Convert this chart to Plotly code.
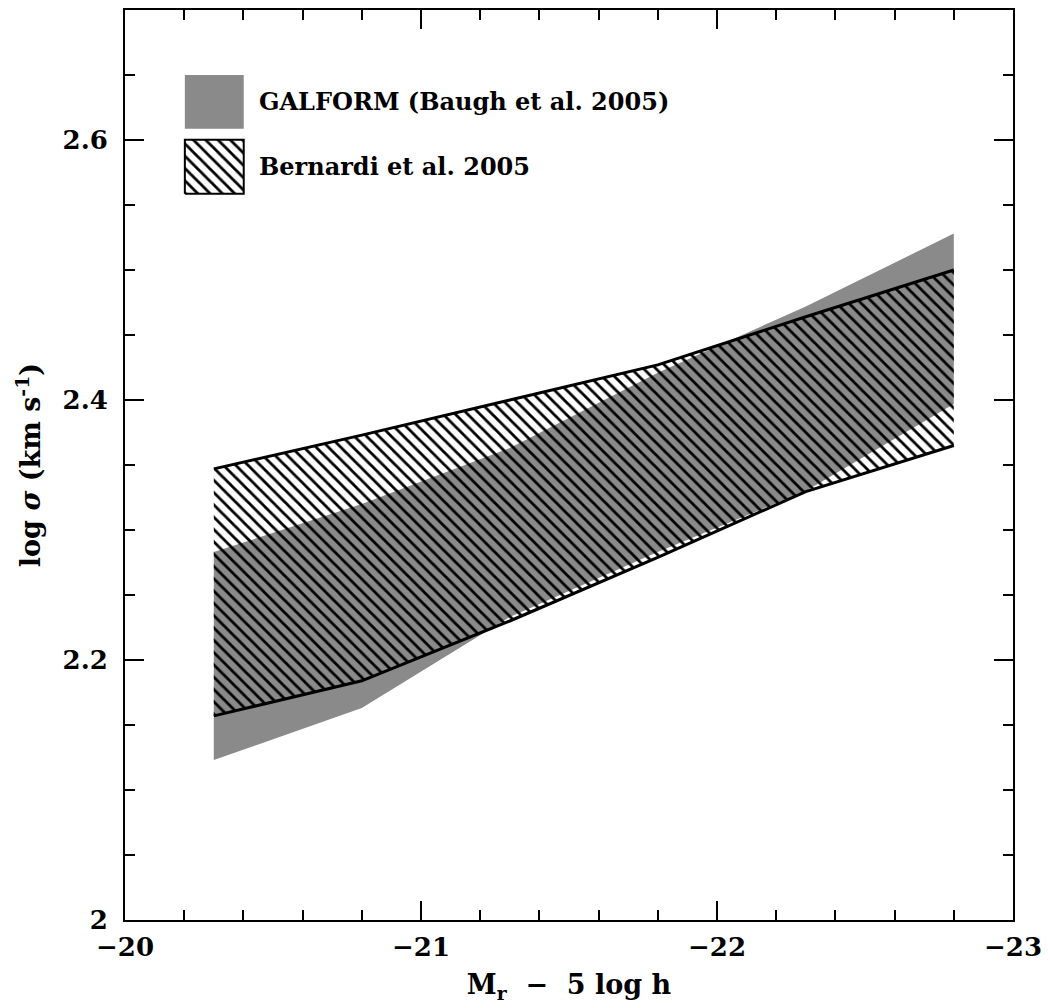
import plotly.graph_objects as go

# Absolute magnitude bins (M_r - 5 log h)
mag = [-20.3, -20.8, -21.3, -21.8, -22.3, -22.8]

# GALFORM (Baugh et al. 2005) velocity-dispersion band, log sigma
galform_lo = [2.123, 2.163, 2.233, 2.283, 2.330, 2.397]
galform_hi = [2.283, 2.320, 2.363, 2.421, 2.472, 2.528]

# Bernardi et al. 2005 observed band, log sigma
bernardi_lo = [2.157, 2.184, 2.230, 2.279, 2.3295, 2.365]
bernardi_hi = [2.347, 2.373, 2.400, 2.427, 2.464, 2.500]

# Axis ticks
x_ticks = [-20, -21, -22, -23]
x_ticktext = ["\u221220", "\u221221", "\u221222", "\u221223"]
y_ticks = [2.0, 2.2, 2.4, 2.6]
y_ticktext = ["2", "2.2", "2.4", "2.6"]

legend_labels = ["GALFORM (Baugh et al. 2005)", "Bernardi et al. 2005"]

GRAY = "#8a8a8a"
FONT = "DejaVu Serif"
HATCH = dict(shape="\\", size=8.7, solidity=0.32, fgcolor="black",
             bgcolor="rgba(0,0,0,0)", fgopacity=1, fillmode="replace")

fig = go.Figure()

# GALFORM shaded band
fig.add_trace(go.Scatter(
    x=mag + mag[::-1], y=galform_hi + galform_lo[::-1],
    fill="toself", fillcolor=GRAY, mode="lines", line=dict(width=0),
    hoverinfo="skip", showlegend=False))

# Bernardi hatched band
fig.add_trace(go.Scatter(
    x=mag + mag[::-1], y=bernardi_hi + bernardi_lo[::-1],
    fill="toself", fillcolor="rgba(0,0,0,0)", fillpattern=HATCH,
    mode="lines", line=dict(width=0), hoverinfo="skip", showlegend=False))

# Bernardi band edges
for edge in (bernardi_hi, bernardi_lo):
    fig.add_trace(go.Scatter(x=mag, y=edge, mode="lines",
                             line=dict(color="black", width=3),
                             hoverinfo="skip", showlegend=False))

# Legend swatches, drawn on an overlay axis spanning [0, 1]
sw_x0, sw_x1 = 0.0674, 0.1337
sw_rows = [(0.8695, 0.9287), (0.7982, 0.8575)]
(g0, g1), (b0, b1) = sw_rows
fig.add_trace(go.Scatter(
    x=[sw_x0, sw_x1, sw_x1, sw_x0, sw_x0], y=[g0, g0, g1, g1, g0],
    xaxis="x2", yaxis="y2", fill="toself", fillcolor=GRAY, mode="lines",
    line=dict(width=0), hoverinfo="skip", showlegend=False))
fig.add_trace(go.Scatter(
    x=[sw_x0, sw_x1, sw_x1, sw_x0, sw_x0], y=[b0, b0, b1, b1, b0],
    xaxis="x2", yaxis="y2", fill="toself", fillcolor="rgba(0,0,0,0)",
    fillpattern=HATCH, mode="lines", line=dict(color="black", width=2),
    hoverinfo="skip", showlegend=False))

for label, (r0, r1) in zip(legend_labels, sw_rows):
    fig.add_annotation(x=0.1483, y=(r0 + r1) / 2, xref="paper", yref="paper",
                       text=label, showarrow=False, xanchor="left",
                       yanchor="middle",
                       font=dict(family=FONT, size=24, color="black",
                                 weight="bold"))

tickfont = dict(family=FONT, size=26, color="black", weight="bold")
titlefont = dict(family=FONT, size=27, color="black", weight="bold")

fig.update_layout(
    width=1050, height=1008,
    margin=dict(l=125, r=35, t=8, b=88),
    paper_bgcolor="white", plot_bgcolor="white",
    showlegend=False,
    xaxis=dict(
        range=[-20, -23], tickvals=x_ticks, ticktext=x_ticktext,
        ticks="inside", ticklen=19, tickwidth=2, tickcolor="black",
        showline=True, linewidth=2, linecolor="black", mirror="allticks",
        showgrid=False, zeroline=False, tickfont=tickfont,
        ticklabelstandoff=3,
        title=dict(text="M<sub>r</sub>  \u2212  5 log h", font=titlefont,
                   standoff=14),
        minor=dict(tick0=-20, dtick=0.2, ticks="inside", ticklen=10,
                   tickwidth=2, tickcolor="black", showgrid=False)),
    yaxis=dict(
        range=[2.0, 2.7], tickvals=y_ticks, ticktext=y_ticktext,
        ticks="inside", ticklen=19, tickwidth=2, tickcolor="black",
        showline=True, linewidth=2, linecolor="black", mirror="allticks",
        showgrid=False, zeroline=False, tickfont=tickfont,
        ticklabelstandoff=10,
        title=dict(text="log <i>\u03c3</i> (km s<sup>-1</sup>)",
                   font=titlefont, standoff=14),
        minor=dict(tick0=2.0, dtick=0.05, ticks="inside", ticklen=10,
                   tickwidth=2, tickcolor="black", showgrid=False)),
    xaxis2=dict(overlaying="x", range=[0, 1], visible=False, fixedrange=True),
    yaxis2=dict(overlaying="y", range=[0, 1], visible=False, fixedrange=True),
)

fig.write_html("out.html")
